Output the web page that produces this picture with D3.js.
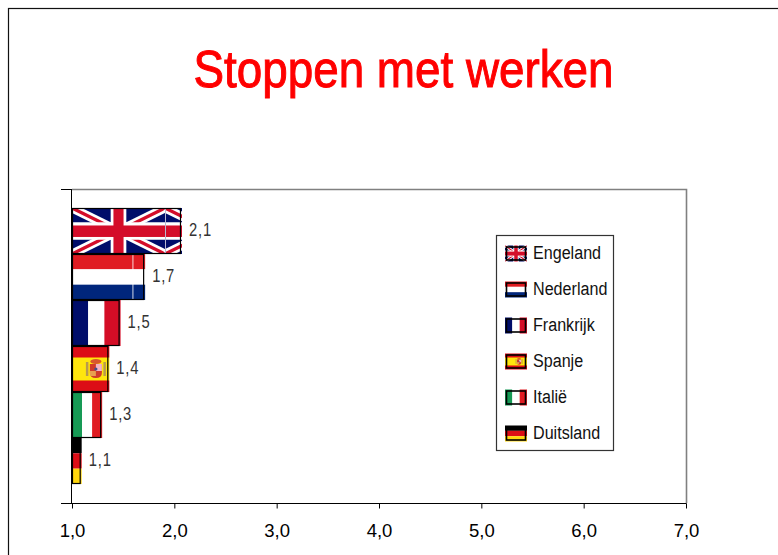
<!DOCTYPE html>
<html><head><meta charset="utf-8">
<script src="https://cdnjs.cloudflare.com/ajax/libs/d3/7.8.5/d3.min.js"></script>
<style>html,body{margin:0;padding:0;background:#fff}svg{display:block}</style>
</head><body><svg id="c" width="778" height="555"></svg>
<script>
const title = "Stoppen met werken";
const countries = ["Engeland","Nederland","Frankrijk","Spanje","Italië","Duitsland"];
const flags = ["uk","nl","fr","es","it","de"];
const barValues = [2.06,1.70,1.46,1.35,1.28,1.08];
const valueLabels = ["2,1","1,7","1,5","1,4","1,3","1,1"];
const tickValues = [1,2,3,4,5,6,7];
const tickLabels = ["1,0","2,0","3,0","4,0","5,0","6,0","7,0"];

const svg = d3.select("#c");
const sans = "'Liberation Sans',Arial,sans-serif";
const M = {l:72,r:686,t:189,b:503};
const x = d3.scaleLinear().domain([1,7]).range([M.l,M.r]);
const y = d3.scaleBand().domain(countries).range([M.t,M.b]).paddingInner(0).paddingOuter(0.413);

svg.append("defs").append("filter").attr("id","soft").attr("x","-5%").attr("y","-5%").attr("width","110%").attr("height","110%")
  .append("feGaussianBlur").attr("stdDeviation",0.45);

svg.append("rect").attr("x",8.5).attr("y",8.5).attr("width",800).attr("height",600).attr("fill","#fff").attr("stroke","#111").attr("stroke-width",1.2);
svg.append("text").attr("x",403.5).attr("y",87).attr("text-anchor","middle").attr("fill","#f00").attr("stroke","#f00").attr("stroke-width",1)
  .attr("font-family",sans).attr("font-size",52).attr("textLength",420).attr("lengthAdjust","spacingAndGlyphs").text(title);

svg.append("path").attr("d",`M${M.l},${M.t+.5}H${M.r+.5}V${M.b}`).attr("fill","none").attr("stroke","#808080").attr("stroke-width",1.6);

let uid=0;
function drawFlag(g,type,w,h,tile){
  const id="f"+(uid++);
  g.append("clipPath").attr("id",id).append("rect").attr("width",w).attr("height",h);
  const r=g.append("g").attr("clip-path",`url(#${id})`).append("g").attr("filter","url(#soft)");
  const R=(X,Y,W,H,f)=>r.append("rect").attr("x",X).attr("y",Y).attr("width",W).attr("height",H).attr("fill",f);
  if(type==="uk"){
    R(-2,-2,w+4,h+4,"#00106b");
    const W=tile||w;
    [0,W].forEach(o=>{
      if(o>=w) return;
      const t=h*0.19,c=r.append("g").attr("transform",`translate(${o},0)`);
      const L=(a,b,cc,d,s,sw)=>c.append("line").attr("x1",a).attr("y1",b).attr("x2",cc).attr("y2",d).attr("stroke",s).attr("stroke-width",sw);
      L(0,0,W,h,"#fff",t); L(W,0,0,h,"#fff",t);
      L(0,0,W,h,"#d40f2b",t*.38); L(W,0,0,h,"#d40f2b",t*.38);
      R(o+W/2-h*.17,-2,h*.34,h+4,"#fff"); R(o,h*.31,W,h*.38,"#fff");
      R(o+W/2-h*.11,-2,h*.22,h+4,"#d40f2b"); R(o,h*.38,W,h*.25,"#d40f2b");
      if(o>0) R(o,-2,1,h+4,"#b8b8d0");
    });
  } else if(type==="nl"){
    R(-2,-2,w+4,h/3+2,"#e01b22");R(-2,h/3,w+4,h/3,"#fff");R(-2,2*h/3,w+4,h/3+2,"#00277c");
  } else if(type==="fr"){
    R(-2,-2,w/3+2,h+4,"#00106b");R(w/3,-2,w/3,h+4,"#fff");R(2*w/3,-2,w/3+2,h+4,"#d40a25");
  } else if(type==="es"){
    R(-2,-2,w+4,h+4,"#dc0a14");R(-2,h/4,w+4,h/2,"#ffe60d");
    const s=h/46;
    const a=r.append("g").attr("transform",`translate(${w*.64},${h/2}) scale(${s})`);
    a.append("rect").attr("x",-10).attr("y",-7).attr("width",2.5).attr("height",14).attr("fill","#b89a50");
    a.append("rect").attr("x",7.5).attr("y",-7).attr("width",2.5).attr("height",14).attr("fill","#b89a50");
    a.append("ellipse").attr("cy",-7.5).attr("rx",5.5).attr("ry",2.6).attr("fill","#d8562e");
    a.append("path").attr("d","M-6,-5H6V4Q6,9 0,9Q-6,9 -6,4Z").attr("fill","#d03a2a");
    a.append("rect").attr("x",0).attr("y",-5).attr("width",6).attr("height",7).attr("fill","#f2b4c4");
    a.append("rect").attr("x",-6).attr("y",2).attr("width",6).attr("height",5).attr("fill","#e8a050");
    a.append("circle").attr("cy",0).attr("r",1.6).attr("fill","#405090");
  } else if(type==="it"){
    R(-2,-2,w/3+2,h+4,"#149a54");R(w/3,-2,w/3,h+4,"#fff");R(2*w/3,-2,w/3+2,h+4,"#e01b22");
  } else {
    R(-2,-2,w+4,h/3+2,"#000");R(-2,h/3,w+4,h/3,"#dc0a14");R(-2,2*h/3,w+4,h/3+2,"#ffd60a");
  }
}

const bars = svg.append("g").selectAll("g").data(countries).join("g")
  .attr("transform",d=>`translate(${M.l},${y(d)})`);
bars.each(function(d,i){
  const g=d3.select(this), w=x(barValues[i])-M.l;
  const fw=w+1.5;
  drawFlag(g,flags[i],fw,y.bandwidth(),flags[i]==="uk"?93:0);
  if(flags[i]==="nl"){
    g.append("rect").attr("x",fw-13).attr("width",1.5).attr("height",y.bandwidth()).attr("fill","#fff").attr("opacity",.55);
  }
  g.append("rect").attr("x",.5).attr("y",.5).attr("width",w-.5).attr("height",y.bandwidth()-1).attr("fill","none").attr("stroke","#000").attr("stroke-width",1.2);
});

svg.append("g").selectAll("text").data(countries).join("text")
  .attr("x",(d,i)=>x(barValues[i])+8.5).attr("y",d=>y(d)+y.bandwidth()/2+5)
  .attr("font-family",sans).attr("font-size",18).attr("letter-spacing",1).attr("fill","#333")
  .attr("textLength",23).attr("lengthAdjust","spacingAndGlyphs")
  .text((d,i)=>valueLabels[i]);

const ax=svg.append("g").attr("transform",`translate(0,${M.b+.5})`)
  .call(d3.axisBottom(x).tickValues(tickValues).tickSize(5).tickFormat((d,i)=>tickLabels[i]));
ax.select(".domain").remove();
ax.selectAll("line").attr("stroke","#000");
ax.selectAll("text").attr("font-family",sans).attr("font-size",18.5).attr("fill","#000").attr("dy",0).attr("y",33);
svg.append("path").attr("d",`M61,${M.b+.5}H${M.r+.5}M61,${M.t+.5}H${M.l}M${M.l-.5},${M.t}V${M.b}`).attr("fill","none").attr("stroke","#000");

const lg=svg.append("g");
lg.append("rect").attr("x",496.5).attr("y",235.5).attr("width",117).attr("height",215).attr("fill","#fff").attr("stroke","#333").attr("stroke-width",1.2);
const row=d3.scalePoint().domain(countries).range([253,433]);
countries.forEach((c,i)=>{
  const g=lg.append("g").attr("transform",`translate(505,${row(c)-7.5})`);
  drawFlag(g,flags[i],22,16);
  g.append("rect").attr("x",1.5).attr("y",1.5).attr("width",19).attr("height",13).attr("fill","none").attr("stroke","#000").attr("stroke-width",1.6);
  const t=lg.append("text").attr("x",533).attr("y",row(c)+6).attr("font-family",sans).attr("font-size",18).attr("fill","#111").text(c);
  t.attr("textLength",t.node().getComputedTextLength()*0.895).attr("lengthAdjust","spacingAndGlyphs");
});
</script></body></html>
